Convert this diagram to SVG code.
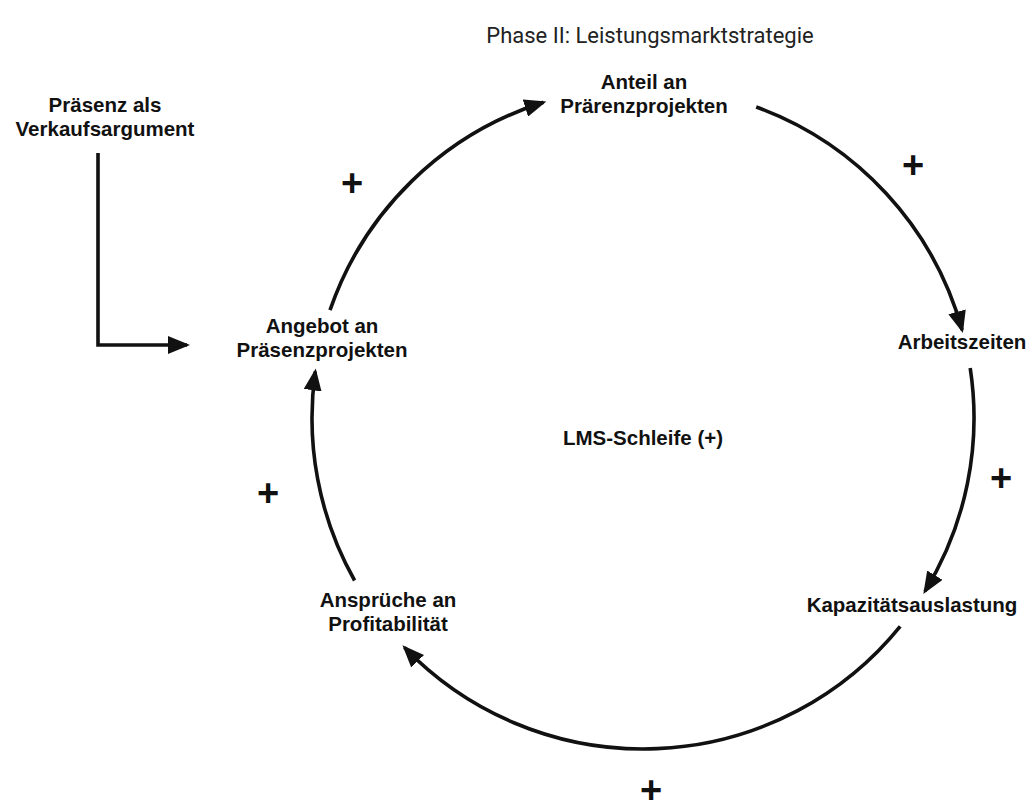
<svg xmlns="http://www.w3.org/2000/svg" width="1034" height="805" viewBox="0 0 1034 805">
  <style>
    .lbl { font-family: "Liberation Sans", Arial, sans-serif; font-weight: bold; font-size: 20.5px; fill: #111; text-anchor: middle; }
    .title { font-family: Roboto, "Liberation Sans", sans-serif; font-size: 22px; fill: #222; text-anchor: middle; }
    .plus { font-family: "Liberation Sans", Arial, sans-serif; font-weight: bold; font-size: 38px; fill: #111; text-anchor: middle; dominant-baseline: central; }
    .link { fill: none; stroke: #111; stroke-width: 3.6; marker-end: url(#arrow); }
  </style>
  <defs>
    <marker id="arrow" markerUnits="userSpaceOnUse" markerWidth="22" markerHeight="18" viewBox="0 0 22 18" refX="19" refY="9" orient="auto">
      <path d="M0,0 L22,9 L0,18 z" fill="#111"/>
    </marker>
  </defs>
  <rect width="1034" height="805" fill="#fff"/>

  <text class="title" x="650" y="43">Phase II: Leistungsmarktstrategie</text>

  <!-- connectors of the loop (circle centre 643,418, r 331) -->
  <g id="connectors">
    <path class="link" d="M98,153 V345 H187"/>
    <path class="link" d="M330.0,310.2 A331,331 0 0 1 543.5,102.3"/>
    <path class="link" d="M756.2,107.0 A331,331 0 0 1 962.1,330.1"/>
    <path class="link" d="M970.2,367.9 A331,331 0 0 1 924.9,591.4"/>
    <path class="link" d="M900.2,626.3 A331,331 0 0 1 404.5,647.5"/>
    <path class="link" d="M354.6,580.5 A331,331 0 0 1 315.3,371.4"/>
  </g>

  <g id="polarity">
    <text class="plus" x="352" y="183">+</text>
    <text class="plus" x="913" y="165">+</text>
    <text class="plus" x="1001" y="478">+</text>
    <text class="plus" x="651" y="790">+</text>
    <text class="plus" x="268" y="493">+</text>
  </g>

  <g id="praesenz-verkauf">
    <text class="lbl" x="105" y="112">Präsenz als</text>
    <text class="lbl" x="105" y="136">Verkaufsargument</text>
  </g>
  <g id="anteil">
    <text class="lbl" x="644" y="89">Anteil an</text>
    <text class="lbl" x="644" y="113">Prärenzprojekten</text>
  </g>
  <g id="arbeitszeiten">
    <text class="lbl" x="962" y="349">Arbeitszeiten</text>
  </g>
  <g id="kapazitaet">
    <text class="lbl" x="912" y="612">Kapazitätsauslastung</text>
  </g>
  <g id="profitabilitaet">
    <text class="lbl" x="388" y="607">Ansprüche an</text>
    <text class="lbl" x="388" y="631">Profitabilität</text>
  </g>
  <g id="angebot">
    <text class="lbl" x="322" y="333">Angebot an</text>
    <text class="lbl" x="322" y="357">Präsenzprojekten</text>
  </g>
  <g id="loop-name">
    <text class="lbl" x="643" y="445">LMS-Schleife (+)</text>
  </g>
</svg>
